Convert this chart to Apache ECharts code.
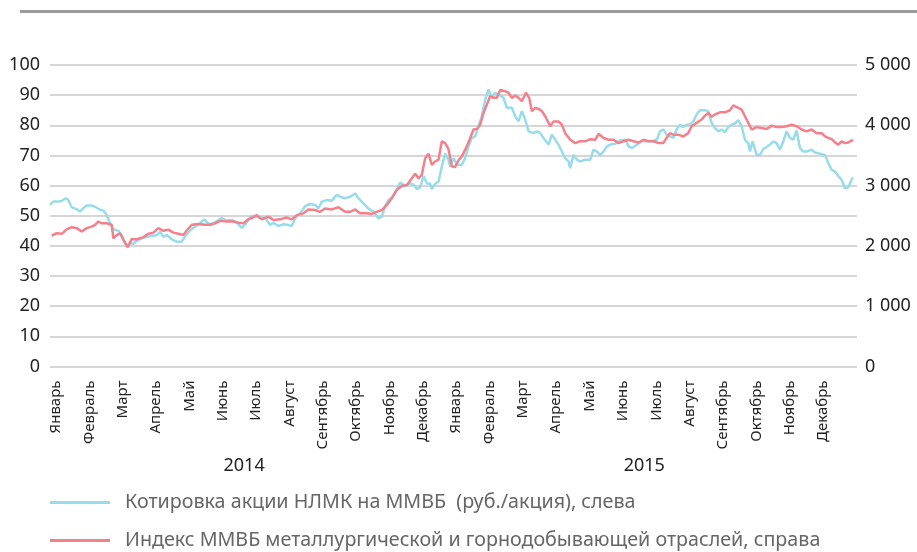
<!DOCTYPE html>
<html>
<head>
<meta charset="utf-8">
<script src="https://cdn.jsdelivr.net/npm/echarts@6/dist/echarts.min.js"></script>
<style>
  html, body { margin: 0; padding: 0; background: #fff; }
  #chart { width: 917px; height: 552px; }
</style>
</head>
<body>
<div id="chart"></div>
<script>
// месяцы по оси X (два года подряд)
var monthNames = ['Январь', 'Февраль', 'Март', 'Апрель', 'Май', 'Июнь', 'Июль', 'Август',
  'Сентябрь', 'Октябрь', 'Ноябрь', 'Декабрь'];
var monthLabels = monthNames.concat(monthNames);
var yearLabels = { 6: '2014', 18: '2015' };

var seriesNames = ['Котировка акции НЛМК на ММВБ  (руб./акция), слева',
  'Индекс ММВБ металлургической и горнодобывающей отраслей, справа'];

// [месяцы от начала 2014, руб./акция]
var nlmkPrice = [
  [0.00, 53.6], [0.10, 54.7], [0.25, 54.7], [0.35, 54.9], [0.47, 55.8], [0.55, 55.2], [0.65, 52.8],
  [0.80, 52.2], [0.90, 51.4], [1.00, 52.5], [1.10, 53.4], [1.25, 53.4], [1.35, 53.0], [1.40, 53.6],
  [1.50, 52.0], [1.60, 51.7], [1.70, 50.3], [1.80, 47.5], [1.90, 45.5], [2.05, 45.0], [2.15, 43.6],
  [2.25, 40.9], [2.32, 39.6], [2.40, 40.9], [2.50, 40.7], [2.60, 41.7], [2.75, 42.5], [2.90, 42.9],
  [3.05, 43.4], [3.20, 43.5], [3.30, 44.7], [3.40, 43.0], [3.50, 43.6], [3.65, 42.2], [3.80, 41.4],
  [3.95, 41.4], [4.05, 43.1], [4.20, 45.1], [4.35, 46.4], [4.50, 47.5], [4.63, 48.8], [4.75, 47.3],
  [4.90, 47.5], [5.05, 48.6], [5.15, 49.2], [5.30, 48.4], [5.45, 48.6], [5.60, 47.7], [5.75, 46.0],
  [5.85, 47.0], [6.00, 49.5], [6.10, 50.0], [6.15, 49.7], [6.30, 49.3], [6.45, 49.4], [6.60, 46.9],
  [6.70, 47.7], [6.85, 46.6], [7.00, 47.2], [7.15, 46.9], [7.25, 46.6], [7.35, 49.1], [7.50, 50.8],
  [7.65, 53.2], [7.80, 53.9], [7.95, 53.6], [8.05, 52.4], [8.15, 54.7], [8.30, 55.2], [8.45, 55.0],
  [8.60, 56.9], [8.70, 56.3], [8.85, 55.8], [9.00, 56.3], [9.15, 57.4], [9.25, 55.8], [9.40, 54.1],
  [9.55, 52.4], [9.70, 51.3], [9.85, 49.1], [9.95, 49.7], [10.05, 53.2], [10.15, 55.2], [10.25, 56.1],
  [10.40, 58.6], [10.50, 61.0], [10.60, 60.3], [10.70, 59.9], [10.80, 60.8], [10.90, 60.3], [11.00, 58.8],
  [11.10, 59.4], [11.20, 63.2], [11.30, 60.8], [11.40, 60.6], [11.45, 58.8], [11.55, 60.6], [11.65, 61.3],
  [11.75, 66.3], [11.85, 70.6], [11.95, 68.6], [12.00, 66.3], [12.10, 69.1], [12.20, 66.9], [12.35, 66.9],
  [12.45, 69.1], [12.55, 73.0], [12.65, 75.8], [12.75, 76.3], [12.85, 79.7], [12.95, 83.0], [13.05, 88.6],
  [13.15, 91.9], [13.25, 89.1], [13.35, 90.8], [13.45, 90.2], [13.60, 89.1], [13.70, 85.8], [13.85, 85.8],
  [13.95, 83.0], [14.05, 81.3], [14.15, 84.7], [14.25, 81.9], [14.35, 78.0], [14.50, 77.4], [14.60, 78.0],
  [14.70, 77.4], [14.80, 75.8], [14.95, 73.6], [15.05, 76.9], [15.15, 75.2], [15.25, 73.6], [15.35, 71.3],
  [15.45, 69.1], [15.55, 68.0], [15.60, 65.8], [15.70, 70.2], [15.80, 68.6], [15.90, 68.0], [16.05, 68.6],
  [16.20, 68.6], [16.30, 71.9], [16.40, 71.3], [16.50, 70.2], [16.60, 71.3], [16.70, 73.0], [16.80, 73.6],
  [16.95, 73.9], [17.10, 75.0], [17.25, 75.2], [17.35, 73.0], [17.45, 72.4], [17.60, 73.6], [17.75, 74.7],
  [17.90, 74.7], [18.05, 74.7], [18.20, 75.2], [18.29, 78.0], [18.39, 78.6], [18.49, 76.9], [18.59, 76.3],
  [18.69, 75.8], [18.79, 78.6], [18.89, 80.2], [18.99, 79.4], [19.09, 80.2], [19.19, 80.2], [19.29, 81.3],
  [19.39, 83.6], [19.49, 85.0], [19.64, 85.0], [19.74, 84.7], [19.84, 80.8], [19.94, 79.1], [20.04, 78.0],
  [20.14, 78.6], [20.24, 77.7], [20.34, 79.4], [20.44, 80.2], [20.54, 80.6], [20.64, 81.7], [20.74, 79.7],
  [20.84, 75.2], [20.94, 74.1], [20.99, 71.3], [21.07, 74.7], [21.19, 70.2], [21.29, 70.2], [21.39, 72.1],
  [21.49, 72.8], [21.59, 73.6], [21.69, 74.7], [21.79, 74.1], [21.89, 71.9], [21.99, 74.7], [22.09, 78.0],
  [22.19, 75.8], [22.29, 75.2], [22.39, 78.3], [22.49, 72.4], [22.59, 71.3], [22.69, 71.3], [22.84, 71.9],
  [22.94, 71.0], [23.09, 70.6], [23.24, 70.2], [23.34, 67.4], [23.44, 65.2], [23.54, 64.7], [23.64, 63.2],
  [23.74, 61.9], [23.84, 59.1], [23.89, 58.5], [23.94, 59.4], [24.01, 61.3], [24.07, 62.8]
];

// [месяцы от начала 2014, пункты индекса]
var metalIndex = [
  [0.05, 2170], [0.20, 2210], [0.35, 2200], [0.50, 2275], [0.65, 2310], [0.80, 2295], [0.95, 2240],
  [1.10, 2295], [1.25, 2320], [1.35, 2350], [1.45, 2405], [1.55, 2375], [1.70, 2375], [1.85, 2350],
  [1.90, 2125], [2.00, 2180], [2.10, 2210], [2.20, 2100], [2.33, 1980], [2.45, 2115], [2.60, 2110],
  [2.80, 2145], [2.95, 2200], [3.10, 2220], [3.25, 2295], [3.40, 2250], [3.55, 2270], [3.70, 2220],
  [3.85, 2200], [4.00, 2180], [4.10, 2255], [4.25, 2350], [4.45, 2365], [4.65, 2350], [4.80, 2350],
  [4.95, 2375], [5.10, 2415], [5.30, 2405], [5.50, 2405], [5.65, 2385], [5.80, 2375], [5.95, 2440],
  [6.10, 2475], [6.20, 2510], [6.35, 2440], [6.55, 2485], [6.70, 2430], [6.90, 2440], [7.10, 2470],
  [7.25, 2440], [7.40, 2510], [7.60, 2540], [7.75, 2605], [7.95, 2595], [8.10, 2565], [8.25, 2620],
  [8.45, 2605], [8.65, 2640], [8.85, 2565], [9.00, 2565], [9.15, 2605], [9.30, 2540], [9.50, 2540],
  [9.65, 2530], [9.80, 2565], [9.95, 2595], [10.10, 2680], [10.25, 2790], [10.40, 2930], [10.55, 2995],
  [10.70, 3010], [10.85, 3120], [10.95, 3195], [11.05, 3120], [11.15, 3180], [11.25, 3455], [11.35, 3530],
  [11.45, 3345], [11.55, 3400], [11.65, 3430], [11.75, 3735], [11.85, 3705], [11.95, 3605], [12.05, 3315],
  [12.15, 3310], [12.25, 3420], [12.35, 3485], [12.50, 3650], [12.60, 3790], [12.70, 3930], [12.80, 3940],
  [12.90, 4010], [13.00, 4205], [13.10, 4345], [13.20, 4485], [13.30, 4455], [13.40, 4455], [13.50, 4585],
  [13.65, 4565], [13.75, 4540], [13.85, 4455], [13.95, 4495], [14.05, 4455], [14.15, 4400], [14.27, 4540],
  [14.37, 4455], [14.45, 4235], [14.55, 4290], [14.65, 4270], [14.75, 4235], [14.85, 4150], [15.00, 3985],
  [15.10, 4065], [15.25, 4065], [15.35, 4010], [15.45, 3870], [15.60, 3760], [15.75, 3705], [15.90, 3735],
  [16.05, 3735], [16.20, 3770], [16.35, 3760], [16.45, 3860], [16.60, 3790], [16.75, 3760], [16.90, 3760],
  [17.05, 3705], [17.20, 3735], [17.35, 3760], [17.50, 3735], [17.65, 3715], [17.80, 3760], [17.95, 3735],
  [18.10, 3735], [18.25, 3705], [18.39, 3705], [18.49, 3790], [18.59, 3870], [18.69, 3845], [18.84, 3845],
  [18.99, 3815], [19.14, 3870], [19.24, 3985], [19.39, 4040], [19.54, 4095], [19.64, 4160], [19.74, 4205],
  [19.84, 4140], [19.94, 4180], [20.09, 4215], [20.24, 4215], [20.39, 4250], [20.49, 4330], [20.64, 4290],
  [20.74, 4260], [20.84, 4150], [20.94, 4040], [21.04, 3930], [21.19, 3970], [21.34, 3955], [21.49, 3940],
  [21.64, 3995], [21.79, 3970], [21.94, 3970], [22.09, 3985], [22.24, 4010], [22.39, 3985], [22.54, 3930],
  [22.69, 3900], [22.84, 3930], [22.99, 3870], [23.14, 3870], [23.24, 3815], [23.34, 3790], [23.44, 3770],
  [23.54, 3715], [23.64, 3680], [23.74, 3735], [23.84, 3705], [23.94, 3715], [24.04, 3750], [24.09, 3750]
];

var font = 'Noto Sans';
var chart = echarts.init(document.getElementById('chart'));

var option = {
  animation: false,
  color: ['#98dcea', '#f4808b'],
  grid: { left: 50, right: 60, top: 65, bottom: 185.5, containLabel: false },
  graphic: [
    { type: 'rect', left: 20, top: 10, shape: { width: 897, height: 3 }, style: { fill: '#9b9b9b' } }
  ],
  legend: {
    orient: 'vertical',
    left: 45,
    top: 485,
    height: 66,
    icon: 'rect',
    itemWidth: 60,
    itemHeight: 3,
    itemGap: 13,
    data: seriesNames,
    textStyle: { fontFamily: font, fontSize: 19.7, lineHeight: 25, color: '#666', padding: [0, 0, 0, 10] }
  },
  xAxis: [
    {
      type: 'value', min: 0, max: 24.2, interval: 1,
      axisLine: { show: false }, axisTick: { show: false }, splitLine: { show: false },
      axisLabel: {
        rotate: 90, margin: 14, fontFamily: font, fontSize: 15, color: '#222',
        verticalAlign: 'top', lineHeight: 12, showMaxLabel: false,
        formatter: function (v) { return (v % 1 === 0 && v < 24) ? monthLabels[v] : ''; }
      }
    },
    {
      type: 'value', min: 0, max: 24.2, interval: 6, position: 'bottom',
      axisLine: { show: false }, axisTick: { show: false }, splitLine: { show: false },
      axisLabel: {
        margin: 90, fontFamily: font, fontSize: 18, color: '#222', padding: [0, 12, 0, 0],
        formatter: function (v) { return yearLabels[v] || ''; }
      }
    }
  ],
  yAxis: [
    {
      type: 'value', min: 0, max: 100, interval: 10,
      axisLine: { show: false }, axisTick: { show: false },
      splitLine: { lineStyle: { color: '#c8c8c8', width: 1.5 } },
      axisLabel: { margin: 10, fontFamily: font, fontSize: 18, color: '#222' }
    },
    {
      type: 'value', min: 0, max: 5000, interval: 1000, position: 'right',
      axisLine: { show: false }, axisTick: { show: false }, splitLine: { show: false },
      axisLabel: {
        margin: 8, fontFamily: font, fontSize: 18, color: '#222',
        formatter: function (v) { return v >= 1000 ? (v / 1000) + ' 000' : String(v); }
      }
    }
  ],
  series: [
    {
      name: seriesNames[0], type: 'line', xAxisIndex: 0, yAxisIndex: 0,
      showSymbol: false, lineStyle: { width: 2.5 }, data: nlmkPrice
    },
    {
      name: seriesNames[1], type: 'line', xAxisIndex: 0, yAxisIndex: 1,
      showSymbol: false, lineStyle: { width: 2.5 }, data: metalIndex
    }
  ]
};
chart.setOption(option);
</script>
</body>
</html>
